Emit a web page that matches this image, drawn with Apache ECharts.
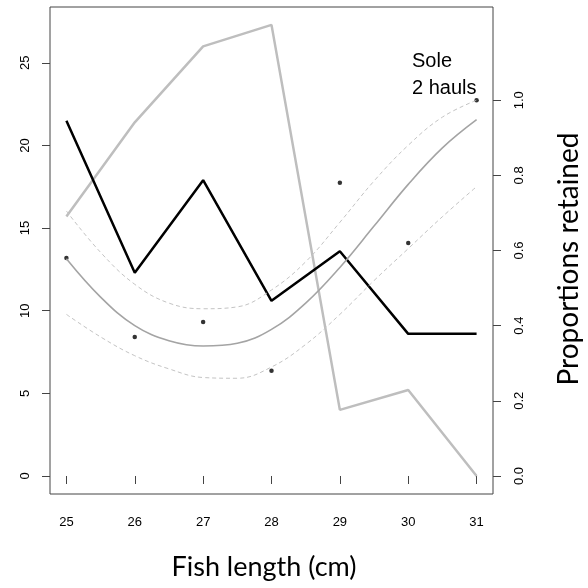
<!DOCTYPE html>
<html>
<head>
<meta charset="utf-8">
<script src="https://cdn.jsdelivr.net/npm/echarts@6/dist/echarts.min.js"></script>
<style>
html,body{margin:0;padding:0;background:#fff;}
#chart{width:588px;height:588px;}
</style>
</head>
<body>
<div id="chart"></div>
<script>
// Fish length classes (cm)
var lengths = [25, 26, 27, 28, 29, 30, 31];
// Counts per length class (left axis)
var countsGrey = [15.7, 21.4, 26.0, 27.3, 4.0, 5.2, 0.0];
var countsBlack = [21.5, 12.3, 17.9, 10.6, 13.6, 8.6, 8.6];
// Observed proportions retained (right axis)
var propObserved = [0.58, 0.37, 0.41, 0.28, 0.78, 0.62, 1.0];
// Fitted selection curve and confidence band (right axis)
var fitLengths = [25, 25.5, 26, 26.5, 27, 27.5, 28, 28.5, 29, 29.5, 30, 30.5, 31];
var fitMean  = [0.578, 0.476, 0.400, 0.360, 0.346, 0.353, 0.390, 0.460, 0.555, 0.665, 0.776, 0.873, 0.948];
var fitUpper = [0.705, 0.595, 0.510, 0.460, 0.445, 0.450, 0.495, 0.570, 0.675, 0.785, 0.880, 0.955, 1.000];
var fitLower = [0.430, 0.370, 0.320, 0.285, 0.262, 0.260, 0.290, 0.350, 0.430, 0.520, 0.605, 0.690, 0.770];
// Tick labels
var xTicks = [25, 26, 27, 28, 29, 30, 31];
var leftTicks = [0, 5, 10, 15, 20, 25];
var rightTicks = [0, 0.2, 0.4, 0.6, 0.8, 1.0];

function pairs(xs, ys) { return xs.map(function (x, i) { return [x, ys[i]]; }); }

var chart = echarts.init(document.getElementById('chart'), null, {renderer: 'canvas'});
var axisCol = '#444';
var font = "'Liberation Sans', Arial, sans-serif";

chart.setOption({
  animation: false,
  backgroundColor: '#fff',
  grid: {left: 50, top: 7, right: 95, bottom: 94, show: true, borderColor: axisCol, borderWidth: 1, backgroundColor: 'transparent'},
  xAxis: {
    type: 'value', min: 24.76, max: 31.24,
    axisLine: {show: false},
    splitLine: {show: false},
    axisTick: {show: true, length: 8, customValues: xTicks, lineStyle: {color: axisCol}},
    axisLabel: {customValues: xTicks, margin: 22, color: '#000', fontSize: 13, fontFamily: font}
  },
  yAxis: [{
    type: 'value', min: -1.09, max: 28.38, position: 'left',
    axisLine: {show: false},
    splitLine: {show: false},
    axisTick: {show: true, length: 8, customValues: leftTicks, lineStyle: {color: axisCol}},
    axisLabel: {customValues: leftTicks, rotate: 90, margin: 18, color: '#000', fontSize: 13, fontFamily: font}
  }, {
    type: 'value', min: -0.048, max: 1.248, position: 'right',
    axisLine: {show: false},
    splitLine: {show: false},
    axisTick: {show: true, length: 8, customValues: rightTicks, lineStyle: {color: axisCol}},
    axisLabel: {customValues: rightTicks, rotate: 90, margin: 20, color: '#000', fontSize: 13, fontFamily: font,
      formatter: function (v) { return v.toFixed(1); }}
  }],
  graphic: [
    {type: 'text', x: 264, y: 567, style: {text: 'Fish length (cm)', align: 'center', verticalAlign: 'middle', font: "27px Lato, 'Open Sans', sans-serif", fill: '#000'}},
    {type: 'text', x: 569, y: 259, rotation: Math.PI / 2, style: {text: 'Proportions retained', align: 'center', verticalAlign: 'middle', font: "28px Lato, 'Open Sans', sans-serif", fill: '#000'}},
    {type: 'text', x: 412, y: 61, style: {text: 'Sole', align: 'left', verticalAlign: 'middle', font: "20px 'Liberation Sans', Arial, sans-serif", fill: '#000'}},
    {type: 'text', x: 412, y: 88, style: {text: '2 hauls', align: 'left', verticalAlign: 'middle', font: "20px 'Liberation Sans', Arial, sans-serif", fill: '#000'}}
  ],
  series: [
    {type: 'line', yAxisIndex: 0, data: pairs(lengths, countsGrey), symbol: 'none', lineStyle: {color: '#bebebe', width: 2.5}},
    {type: 'line', yAxisIndex: 0, data: pairs(lengths, countsBlack), symbol: 'none', lineStyle: {color: '#000', width: 2.5}},
    {type: 'line', yAxisIndex: 1, data: pairs(fitLengths, fitUpper), symbol: 'none', smooth: 0.4, lineStyle: {color: '#c4c4c4', width: 1, type: [4, 3]}},
    {type: 'line', yAxisIndex: 1, data: pairs(fitLengths, fitLower), symbol: 'none', smooth: 0.4, lineStyle: {color: '#c4c4c4', width: 1, type: [4, 3]}},
    {type: 'line', yAxisIndex: 1, data: pairs(fitLengths, fitMean), symbol: 'none', smooth: 0.4, lineStyle: {color: '#a4a4a4', width: 1.6}},
    {type: 'scatter', yAxisIndex: 1, data: pairs(lengths, propObserved), symbol: 'circle', symbolSize: 4.5, itemStyle: {color: '#000'}}
  ]
});
</script>
</body>
</html>
